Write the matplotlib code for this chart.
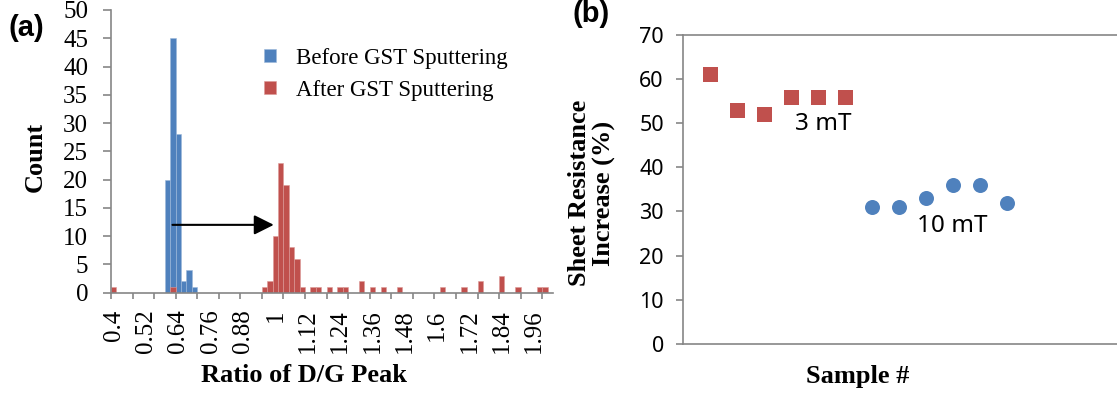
import matplotlib.pyplot as plt
import numpy as np

# === data (a): histogram of D/G peak ratio, bin width 0.02 ===
bin_width = 0.02
bin_start = 0.39
n_bins = 82
before_x = [0.60, 0.62, 0.64, 0.66, 0.68, 0.70]
before_count = [20, 45, 28, 2, 4, 1]
after_x = [0.40, 0.62, 0.96, 0.98, 1.00, 1.02, 1.04, 1.06, 1.08, 1.10,
           1.14, 1.16, 1.20, 1.24, 1.26, 1.32, 1.36, 1.40, 1.46, 1.62,
           1.70, 1.76, 1.84, 1.90, 1.98, 2.00]
after_count = [1, 1, 1, 2, 10, 23, 19, 8, 6, 1,
               1, 1, 1, 1, 1, 2, 1, 1, 1, 1,
               1, 2, 3, 1, 1, 1]
xtick_pos = [0.40, 0.52, 0.64, 0.76, 0.88, 1.00, 1.12, 1.24, 1.36, 1.48, 1.60, 1.72, 1.84, 1.96]
xtick_labels = ['0.4', '0.52', '0.64', '0.76', '0.88', '1', '1.12', '1.24',
                '1.36', '1.48', '1.6', '1.72', '1.84', '1.96']

# === data (b): sheet resistance increase ===
sample_3mT = [1, 2, 3, 4, 5, 6]
res_3mT = [61, 53, 52, 56, 56, 56]
sample_10mT = [7, 8, 9, 10, 11, 12]
res_10mT = [31, 31, 33, 36, 36, 32]

BLUE = '#4F81BD'
RED = '#C0504D'
GRAY = '#868686'
W, H = 1117, 398

fig = plt.figure(figsize=(W / 100, H / 100), dpi=100)

def px(x, y):
    return x / W, 1 - y / H

# ---------- panel (a) ----------
ax1 = fig.add_axes([111 / W, 1 - 292.7 / H, 442 / W, 282.7 / H])
ax1.bar(before_x, before_count, width=bin_width, color=BLUE, edgecolor='#9DB8DA',
        linewidth=0.4, label='Before GST Sputtering')
ax1.bar(after_x, after_count, width=bin_width, color=RED, edgecolor='#DC9A98',
        linewidth=0.4, label='After GST Sputtering')
ax1.set_xlim(bin_start, bin_start + n_bins * bin_width)
ax1.set_ylim(0, 50)
for s in ['top', 'right']:
    ax1.spines[s].set_visible(False)
for s in ['left', 'bottom']:
    ax1.spines[s].set_color(GRAY)
    ax1.spines[s].set_linewidth(1.2)

serif = 'Liberation Serif'
ax1.set_yticks(np.arange(0, 51, 5))
ax1.set_yticklabels([str(v) for v in range(0, 51, 5)], fontfamily=serif, fontsize=18)
ax1.tick_params(axis='y', length=5.5, width=1.2, color=GRAY, pad=11)
ax1.set_xticks(np.arange(bin_start, bin_start + n_bins * bin_width, 0.08))
ax1.set_xticklabels([])
ax1.tick_params(axis='x', which='major', length=4.5, width=1.2, color=GRAY)
ax1.set_xticks(xtick_pos, minor=True)
ax1.set_xticklabels(xtick_labels, minor=True, rotation=90, fontfamily=serif, fontsize=18)
ax1.tick_params(axis='x', which='minor', length=0, pad=12)

ax1.annotate('', xy=(0.994, 12), xytext=(0.618, 12),
             arrowprops=dict(arrowstyle='-|>,head_length=0.6,head_width=0.3',
                             color='black', lw=1.5, mutation_scale=20,
                             shrinkA=0, shrinkB=0))

leg = ax1.legend(loc='upper left', bbox_to_anchor=(0.30, 0.94), frameon=False,
                 prop={'family': serif, 'size': 16.5}, handlelength=0.5,
                 handleheight=0.5, handletextpad=0.9, labelspacing=0.5)

fig.text(*px(304, 375), 'Ratio of D/G Peak', ha='center', va='center',
         fontfamily=serif, fontweight='bold', fontsize=19)
fig.text(*px(35, 157), 'Count', ha='center', va='center', rotation=90,
         fontfamily=serif, fontweight='bold', fontsize=19)
fig.text(*px(26, 28), '(a)', ha='center', va='center',
         fontfamily='Liberation Sans', fontweight='bold', fontsize=21)

# ---------- panel (b) ----------
x_right = (W - 683.3) / 27.0
ax2 = fig.add_axes([683.3 / W, 1 - 344 / H, (W - 683.3) / W, 309.3 / H])
ax2.scatter(sample_3mT, res_3mT, marker='s', s=10.8 ** 2, color=RED, linewidths=0)
ax2.scatter(sample_10mT, res_10mT, marker='o', s=10.8 ** 2, color=BLUE, linewidths=0)
ax2.set_xlim(0, x_right)
ax2.set_ylim(0, 70)
ax2.spines['right'].set_visible(False)
for s in ['left', 'top', 'bottom']:
    ax2.spines[s].set_color(GRAY)
    ax2.spines[s].set_linewidth(1.2)
ax2.set_xticks([])
ax2.set_yticks(np.arange(0, 71, 10))
ax2.set_yticklabels([str(v) for v in range(0, 71, 10)], fontfamily='Noto Sans', fontsize=15.5)
ax2.tick_params(axis='y', length=5, width=1.2, color=GRAY, pad=9)

ax2.text(5.17, 49.8, '3 mT', ha='center', va='center', fontfamily='Noto Sans', fontsize=17.5)
ax2.text(9.95, 26.7, '10 mT', ha='center', va='center', fontfamily='Noto Sans', fontsize=17.5)

fig.text(*px(592, 193), 'Sheet Resistance\nIncrease (%)', ha='center', va='center',
         rotation=90, fontfamily=serif, fontweight='bold', fontsize=19, linespacing=1.1)
fig.text(*px(858, 377), 'Sample #', ha='center', va='center',
         fontfamily=serif, fontweight='bold', fontsize=19)
fig.text(*px(591, 14), '(b)', ha='center', va='center',
         fontfamily='Liberation Sans', fontweight='bold', fontsize=21)

plt.savefig('out.png', dpi=100)
